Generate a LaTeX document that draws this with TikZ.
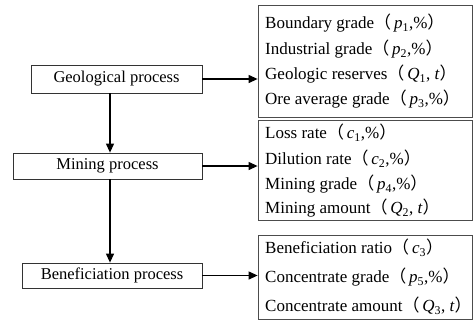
\documentclass[tikz,border=0pt]{standalone}
\usepackage{fontspec}
\setmainfont{Liberation Serif}
\newfontfamily\cjk{Noto Sans CJK SC}
\usetikzlibrary{arrows.meta}
% full-width brackets and indexed symbols
\newcommand{\lbr}{{\cjk （}\,}
\newcommand{\rbr}{{\cjk ）}}
\newcommand{\sym}[2]{\textit{#1}\textsubscript{#2}}
\tikzset{
  proc/.style={draw=black!80, line width=0.8pt, inner sep=0},
  parbox/.style={draw=black!70, line width=0.8pt, inner sep=0},
  item/.style={anchor=west, inner sep=0, font=\fontsize{17}{20}\selectfont},
  arr/.style={line width=1.2pt, -{Triangle[length=9pt,width=8pt]}}
}
\begin{document}
\begin{tikzpicture}[x=1pt, y=-1pt, font=\fontsize{16.5}{19}\selectfont]
\useasboundingbox (0,0) rectangle (475,322);
% processes
\node[proc, minimum width=171pt, minimum height=28pt] (geo) at (116.5,79) {Geological process\hspace{22pt}};
\node[proc, minimum width=189pt, minimum height=26pt] (mine) at (107.5,166) {Mining process};
\node[proc, minimum width=180pt, minimum height=25pt] (benef) at (112,275.5) {Beneficiation process};
% parameter boxes
\node[parbox, minimum width=214pt, minimum height=112pt] (par1) at (365,61) {};
\node[parbox, minimum width=214pt, minimum height=100pt] (par2) at (365,170) {};
\node[parbox, minimum width=214pt, minimum height=84pt] (par3) at (365,277) {};
% geological parameters
\node[item] (p1) at (265,23) {Boundary grade\lbr\sym{p}{1},\%\rbr};
\node[item] (p2) at (265,49) {Industrial grade\lbr\sym{p}{2},\%\rbr};
\node[item] (q1) at (265,74) {Geologic reserves\lbr\sym{Q}{1}, \textit{t}\rbr};
\node[item] (p3) at (265,99) {Ore average grade\lbr\sym{p}{3},\%\rbr};
% mining parameters
\node[item] (c1) at (265,133) {Loss rate\lbr\sym{c}{1},\%\rbr};
\node[item] (c2) at (265,159) {Dilution rate\lbr\sym{c}{2},\%\rbr};
\node[item] (p4) at (265,184) {Mining grade\lbr\sym{p}{4},\%\rbr};
\node[item] (q2) at (265,208) {Mining amount\lbr\sym{Q}{2}, \textit{t}\rbr};
% beneficiation parameters
\node[item] (c3) at (265,248) {Beneficiation ratio\lbr\sym{c}{3}\rbr};
\node[item] (p5) at (265,277) {Concentrate grade\lbr\sym{p}{5},\%\rbr};
\node[item] (q3) at (265,306) {Concentrate amount\lbr\sym{Q}{3}, \textit{t}\rbr};
% arrows
\coordinate (spine) at (110,0);
\draw[arr] (geo.south -| spine) -- (mine.north -| spine);
\draw[arr] (mine.south -| spine) -- (benef.north -| spine);
\draw[arr] (geo.east) -- (geo.east -| par1.west);
\draw[arr] (mine.east) -- (mine.east -| par2.west);
\draw[arr] (benef.east) -- (benef.east -| par3.west);
\end{tikzpicture}
\end{document}
